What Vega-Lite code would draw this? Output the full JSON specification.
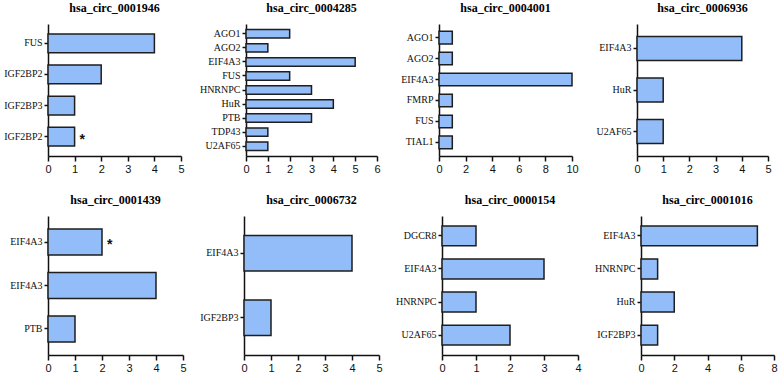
{
  "$schema": "https://vega.github.io/schema/vega-lite/v6.json",
  "padding": {"left": 3, "top": 2, "right": 2, "bottom": 0},
  "datasets": {
    "d": [
      {"panel": "hsa_circ_0001946", "key": "FUS#1", "value": 4, "note": ""},
      {"panel": "hsa_circ_0001946", "key": "IGF2BP2#1", "value": 2, "note": ""},
      {"panel": "hsa_circ_0001946", "key": "IGF2BP3#1", "value": 1, "note": ""},
      {"panel": "hsa_circ_0001946", "key": "IGF2BP2#2", "value": 1, "note": "*"},
      {"panel": "hsa_circ_0004285", "key": "AGO1#1", "value": 2, "note": ""},
      {"panel": "hsa_circ_0004285", "key": "AGO2#1", "value": 1, "note": ""},
      {"panel": "hsa_circ_0004285", "key": "EIF4A3#1", "value": 5, "note": ""},
      {"panel": "hsa_circ_0004285", "key": "FUS#1", "value": 2, "note": ""},
      {"panel": "hsa_circ_0004285", "key": "HNRNPC#1", "value": 3, "note": ""},
      {"panel": "hsa_circ_0004285", "key": "HuR#1", "value": 4, "note": ""},
      {"panel": "hsa_circ_0004285", "key": "PTB#1", "value": 3, "note": ""},
      {"panel": "hsa_circ_0004285", "key": "TDP43#1", "value": 1, "note": ""},
      {"panel": "hsa_circ_0004285", "key": "U2AF65#1", "value": 1, "note": ""},
      {"panel": "hsa_circ_0004001", "key": "AGO1#1", "value": 1, "note": ""},
      {"panel": "hsa_circ_0004001", "key": "AGO2#1", "value": 1, "note": ""},
      {"panel": "hsa_circ_0004001", "key": "EIF4A3#1", "value": 10, "note": ""},
      {"panel": "hsa_circ_0004001", "key": "FMRP#1", "value": 1, "note": ""},
      {"panel": "hsa_circ_0004001", "key": "FUS#1", "value": 1, "note": ""},
      {"panel": "hsa_circ_0004001", "key": "TIAL1#1", "value": 1, "note": ""},
      {"panel": "hsa_circ_0006936", "key": "EIF4A3#1", "value": 4, "note": ""},
      {"panel": "hsa_circ_0006936", "key": "HuR#1", "value": 1, "note": ""},
      {"panel": "hsa_circ_0006936", "key": "U2AF65#1", "value": 1, "note": ""},
      {"panel": "hsa_circ_0001439", "key": "EIF4A3#1", "value": 2, "note": "*"},
      {"panel": "hsa_circ_0001439", "key": "EIF4A3#2", "value": 4, "note": ""},
      {"panel": "hsa_circ_0001439", "key": "PTB#1", "value": 1, "note": ""},
      {"panel": "hsa_circ_0006732", "key": "EIF4A3#1", "value": 4, "note": ""},
      {"panel": "hsa_circ_0006732", "key": "IGF2BP3#1", "value": 1, "note": ""},
      {"panel": "hsa_circ_0000154", "key": "DGCR8#1", "value": 1, "note": ""},
      {"panel": "hsa_circ_0000154", "key": "EIF4A3#1", "value": 3, "note": ""},
      {"panel": "hsa_circ_0000154", "key": "HNRNPC#1", "value": 1, "note": ""},
      {"panel": "hsa_circ_0000154", "key": "U2AF65#1", "value": 2, "note": ""},
      {"panel": "hsa_circ_0001016", "key": "EIF4A3#1", "value": 7, "note": ""},
      {"panel": "hsa_circ_0001016", "key": "HNRNPC#1", "value": 1, "note": ""},
      {"panel": "hsa_circ_0001016", "key": "HuR#1", "value": 2, "note": ""},
      {"panel": "hsa_circ_0001016", "key": "IGF2BP3#1", "value": 1, "note": ""}
    ]
  },
  "data": {"name": "d"},
  "spacing": 20,
  "align": "none",
  "vconcat": [
    {
      "spacing": 14,
      "hconcat": [
        {
          "title": "hsa_circ_0001946", "width": 133, "height": 132,
          "transform": [{"filter": "datum.panel === 'hsa_circ_0001946'"}],
          "encoding": {
            "y": {"field": "key", "type": "nominal", "sort": null, "scale": {"paddingInner": 0.4, "paddingOuter": 0.32}},
            "x": {"field": "value", "type": "quantitative", "scale": {"domain": [0, 5], "nice": false}, "axis": {"values": [0, 1, 2, 3, 4, 5]}}
          },
          "layer": [
            {"mark": {"type": "bar", "fill": "#93bdf9", "stroke": "#1e1e1e", "strokeWidth": 1.5}},
            {"mark": {"type": "text", "align": "left", "baseline": "middle", "dx": 5, "dy": 3, "fontSize": 14, "font": "Liberation Sans", "fontWeight": "bold", "color": "#111"}, "encoding": {"text": {"field": "note"}}}
          ]
        },
        {
          "title": "hsa_circ_0004285", "width": 131, "height": 132,
          "transform": [{"filter": "datum.panel === 'hsa_circ_0004285'"}],
          "encoding": {
            "y": {"field": "key", "type": "nominal", "sort": null, "scale": {"paddingInner": 0.4, "paddingOuter": 0.4}},
            "x": {"field": "value", "type": "quantitative", "scale": {"domain": [0, 6], "nice": false}, "axis": {"values": [0, 1, 2, 3, 4, 5, 6]}}
          },
          "layer": [
            {"mark": {"type": "bar", "fill": "#93bdf9", "stroke": "#1e1e1e", "strokeWidth": 1.5}}
          ]
        },
        {
          "title": "hsa_circ_0004001", "width": 133, "height": 132,
          "transform": [{"filter": "datum.panel === 'hsa_circ_0004001'"}],
          "encoding": {
            "y": {"field": "key", "type": "nominal", "sort": null, "scale": {"paddingInner": 0.4, "paddingOuter": 0.35}},
            "x": {"field": "value", "type": "quantitative", "scale": {"domain": [0, 10], "nice": false}, "axis": {"values": [0, 2, 4, 6, 8, 10]}}
          },
          "layer": [
            {"mark": {"type": "bar", "fill": "#93bdf9", "stroke": "#1e1e1e", "strokeWidth": 1.5}}
          ]
        },
        {
          "title": "hsa_circ_0006936", "width": 131, "height": 132,
          "transform": [{"filter": "datum.panel === 'hsa_circ_0006936'"}],
          "encoding": {
            "y": {"field": "key", "type": "nominal", "sort": null, "scale": {"paddingInner": 0.42, "paddingOuter": 0.3}},
            "x": {"field": "value", "type": "quantitative", "scale": {"domain": [0, 5], "nice": false}, "axis": {"values": [0, 1, 2, 3, 4, 5]}}
          },
          "layer": [
            {"mark": {"type": "bar", "fill": "#93bdf9", "stroke": "#1e1e1e", "strokeWidth": 1.5}}
          ]
        }
      ]
    },
    {
      "spacing": 12,
      "hconcat": [
        {
          "title": "hsa_circ_0001439", "width": 135, "height": 139,
          "transform": [{"filter": "datum.panel === 'hsa_circ_0001439'"}],
          "encoding": {
            "y": {"field": "key", "type": "nominal", "sort": null, "scale": {"paddingInner": 0.4, "paddingOuter": 0.3}, "axis": {"minExtent": 40, "maxExtent": 40}},
            "x": {"field": "value", "type": "quantitative", "scale": {"domain": [0, 5], "nice": false}, "axis": {"values": [0, 1, 2, 3, 4, 5]}}
          },
          "layer": [
            {"mark": {"type": "bar", "fill": "#93bdf9", "stroke": "#1e1e1e", "strokeWidth": 1.5}},
            {"mark": {"type": "text", "align": "left", "baseline": "middle", "dx": 5, "dy": 3, "fontSize": 14, "font": "Liberation Sans", "fontWeight": "bold", "color": "#111"}, "encoding": {"text": {"field": "note"}}}
          ]
        },
        {
          "title": "hsa_circ_0006732", "width": 135, "height": 139,
          "transform": [{"filter": "datum.panel === 'hsa_circ_0006732'"}],
          "encoding": {
            "y": {"field": "key", "type": "nominal", "sort": null, "scale": {"paddingInner": 0.45, "paddingOuter": 0.3}},
            "x": {"field": "value", "type": "quantitative", "scale": {"domain": [0, 5], "nice": false}, "axis": {"values": [0, 1, 2, 3, 4, 5]}}
          },
          "layer": [
            {"mark": {"type": "bar", "fill": "#93bdf9", "stroke": "#1e1e1e", "strokeWidth": 1.5}}
          ]
        },
        {
          "title": "hsa_circ_0000154", "width": 136, "height": 139,
          "transform": [{"filter": "datum.panel === 'hsa_circ_0000154'"}],
          "encoding": {
            "y": {"field": "key", "type": "nominal", "sort": null, "scale": {"paddingInner": 0.4, "paddingOuter": 0.3}},
            "x": {"field": "value", "type": "quantitative", "scale": {"domain": [0, 4], "nice": false}, "axis": {"values": [0, 1, 2, 3, 4]}}
          },
          "layer": [
            {"mark": {"type": "bar", "fill": "#93bdf9", "stroke": "#1e1e1e", "strokeWidth": 1.5}}
          ]
        },
        {
          "title": "hsa_circ_0001016", "width": 133, "height": 139,
          "transform": [{"filter": "datum.panel === 'hsa_circ_0001016'"}],
          "encoding": {
            "y": {"field": "key", "type": "nominal", "sort": null, "scale": {"paddingInner": 0.4, "paddingOuter": 0.3}},
            "x": {"field": "value", "type": "quantitative", "scale": {"domain": [0, 8], "nice": false}, "axis": {"values": [0, 2, 4, 6, 8]}}
          },
          "layer": [
            {"mark": {"type": "bar", "fill": "#93bdf9", "stroke": "#1e1e1e", "strokeWidth": 1.5}}
          ]
        }
      ]
    }
  ],
  "config": {
    "view": {"stroke": null},
    "title": {"font": "Liberation Serif", "fontWeight": "bold", "fontSize": 12, "offset": 9, "anchor": "middle", "frame": "group", "color": "#000"},
    "axis": {"grid": false, "title": null, "domainColor": "#111", "domainWidth": 1.5, "tickColor": "#111", "tickWidth": 1.5, "labelColor": "#111"},
    "axisY": {"labelFont": "Liberation Serif", "labelFontSize": 10, "tickSize": 4, "labelPadding": 2, "minExtent": 44, "maxExtent": 44, "labelExpr": "split(datum.label, '#')[0]"},
    "axisX": {"labelFont": "Liberation Sans", "labelFontSize": 11, "tickSize": 5, "labelPadding": 2, "labelFlush": false}
  }
}
